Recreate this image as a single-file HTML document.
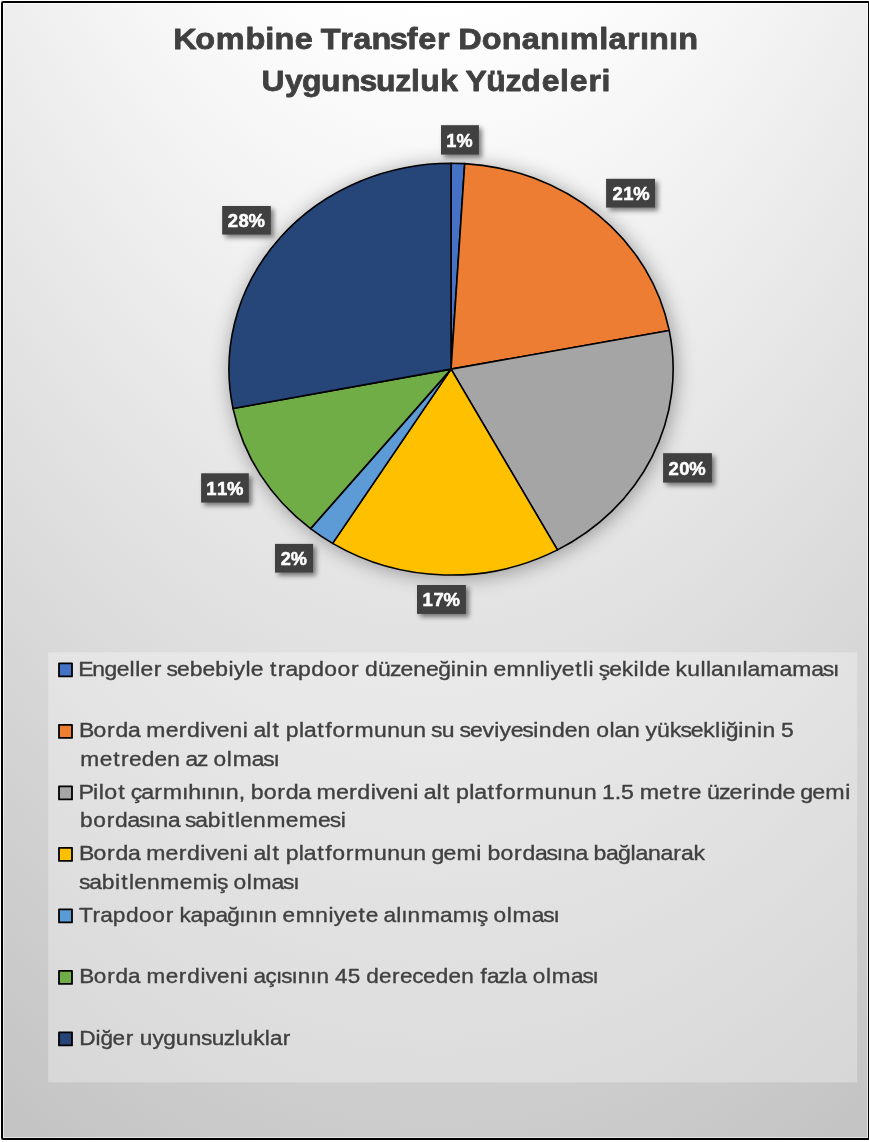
<!DOCTYPE html>
<html lang="tr"><head><meta charset="utf-8"><title>Kombine Transfer Donanımlarının Uygunsuzluk Yüzdeleri</title>
<style>
html,body{margin:0;padding:0;background:#fff;}
body{width:869px;height:1142px;overflow:hidden;position:relative;font-family:"Liberation Sans",sans-serif;}
#chart{position:absolute;left:1px;top:1px;width:865px;height:1135px;border:2px solid #000;border-radius:2px;
background:radial-gradient(ellipse 1092px 2319px at 50% -80%, #fff 0%, #fff 39%, #bfbfbf 100%);
box-shadow:inset 0 0 0 1px rgba(255,255,255,.55);}
svg{position:absolute;left:0;top:0;}
text{font-family:"Liberation Sans",sans-serif;}
.ti{font-weight:bold;font-size:30.4px;fill:#404040;stroke:#404040;stroke-width:.8px;stroke-linejoin:round;}
.lb{font-weight:bold;font-size:17.5px;fill:#fff;stroke:#fff;stroke-width:.5px;}
.lg{font-size:20.4px;fill:#404040;stroke:#404040;stroke-width:.35px;}
</style></head><body>
<div id="chart"></div>
<svg width="869" height="1142" viewBox="0 0 869 1142">
<defs>
<filter id="ps" x="-20%" y="-20%" width="140%" height="140%"><feGaussianBlur in="SourceAlpha" stdDeviation="10"/><feOffset dx="1.5" dy="2"/><feComponentTransfer><feFuncA type="linear" slope="0.36"/></feComponentTransfer><feMerge><feMergeNode/><feMergeNode in="SourceGraphic"/></feMerge></filter>
<filter id="ls" x="-30%" y="-30%" width="170%" height="180%"><feGaussianBlur in="SourceAlpha" stdDeviation="2.4"/><feOffset dx="3" dy="3"/><feComponentTransfer><feFuncA type="linear" slope="0.5"/></feComponentTransfer><feMerge><feMergeNode/><feMergeNode in="SourceGraphic"/></feMerge></filter>
</defs>
<text transform="scale(1.0681,1)" x="162.24 182.80 202.06 229.77 248.45 257.01 275.93 292.83 300.31 318.46 330.69 347.79 364.90 380.73 391.58 409.04 420.83 428.97 450.97 469.67 488.43 505.53 524.21 533.33 561.04 569.68 586.99 599.13 607.69 626.36 634.92" y="49.2" class="ti">Kombine Transfer Donanımlarının</text>
<text transform="scale(1.0512,1)" x="248.65 271.25 287.30 305.31 324.44 341.94 357.78 376.11 390.94 399.82 418.77 435.57 442.95 462.63 480.95 495.90 515.26 532.83 541.94 559.76 572.16" y="91.5" class="ti">Uygunsuzluk Yüzdeleri</text>
<g filter="url(#ps)" stroke="#000" stroke-width="1.6" stroke-linejoin="round">
<path d="M451.05 369.15L451.05 163.25A222.1 205.9 0 0 1 464.72 163.64Z" fill="#4472C4"/>
<path d="M451.05 369.15L464.72 163.64A222.1 205.9 0 0 1 669.19 330.44Z" fill="#ED7D31"/>
<path d="M451.05 369.15L669.19 330.44A222.1 205.9 0 0 1 557.44 549.89Z" fill="#A5A5A5"/>
<path d="M451.05 369.15L557.44 549.89A222.1 205.9 0 0 1 332.63 543.34Z" fill="#FFC000"/>
<path d="M451.05 369.15L332.63 543.34A222.1 205.9 0 0 1 310.56 528.62Z" fill="#5B9BD5"/>
<path d="M451.05 369.15L310.56 528.62A222.1 205.9 0 0 1 233.04 408.49Z" fill="#70AD47"/>
<path d="M451.05 369.15L233.04 408.49A222.1 205.9 0 0 1 451.05 163.25Z" fill="#264478"/>
</g>
<rect x="441.0" y="125.2" width="37.9" height="29.4" fill="#404040" filter="url(#ls)"/>
<text transform="scale(1.0360,1)" x="430.82 440.55" y="146.8" class="lb">1%</text>
<rect x="606.1" y="178.8" width="48.9" height="28.8" fill="#404040" filter="url(#ls)"/>
<text transform="scale(1.0550,1)" x="580.47 590.66 600.17" y="199.9" class="lb">21%</text>
<rect x="663.1" y="453.2" width="48.8" height="29.4" fill="#404040" filter="url(#ls)"/>
<text transform="scale(1.0550,1)" x="633.74 643.93 653.44" y="474.8" class="lb">20%</text>
<rect x="417.0" y="585.0" width="48.9" height="28.9" fill="#404040" filter="url(#ls)"/>
<text transform="scale(1.0550,1)" x="400.60 410.79 420.30" y="606.0" class="lb">17%</text>
<rect x="275.0" y="543.9" width="38.1" height="28.7" fill="#404040" filter="url(#ls)"/>
<text transform="scale(1.0360,1)" x="270.93 280.67" y="564.7" class="lb">2%</text>
<rect x="201.1" y="473.3" width="47.7" height="29.3" fill="#404040" filter="url(#ls)"/>
<text transform="scale(1.0550,1)" x="195.48 205.67 215.18" y="495.0" class="lb">11%</text>
<rect x="222.2" y="206.0" width="48.6" height="28.6" fill="#404040" filter="url(#ls)"/>
<text transform="scale(1.0550,1)" x="215.82 226.01 235.52" y="226.9" class="lb">28%</text>
<rect x="48.2" y="652.3" width="809" height="430.1" fill="#fff" fill-opacity="0.3"/>
<rect x="59.0" y="663.3" width="13.0" height="13.1" fill="#4472C4" stroke="#000" stroke-width="1.8" stroke-linejoin="round"/>
<text transform="scale(1.1215,1)" x="69.83 82.22 93.29 104.06 115.54 120.63 125.31 137.00 143.95 148.54 157.85 169.22 180.59 191.96 203.75 208.50 218.91 223.58 234.47 240.71 247.75 254.67 265.83 277.50 289.19 300.91 312.92 319.88 325.38 337.05 347.85 357.21 368.58 379.95 390.72 401.90 406.88 418.66 423.64 434.82 440.03 451.62 469.16 480.95 486.04 490.79 500.79 512.88 519.72 524.81 529.30 533.89 543.20 554.36 564.80 569.89 574.86 586.24 597.12 602.42 612.74 624.53 629.62 634.08 645.24 656.46 662.12 666.58 677.96 694.99 706.37 723.40 733.64 742.80" y="675.8" class="lg">Engeller sebebiyle trapdoor düzeneğinin emnliyetli şekilde kullanılamaması</text>
<rect x="59.0" y="724.8" width="13.0" height="13.1" fill="#ED7D31" stroke="#000" stroke-width="1.8" stroke-linejoin="round"/>
<text transform="scale(1.1263,1)" x="70.12 83.10 95.07 102.47 113.58 124.22 129.90 147.08 158.73 166.13 177.88 182.58 192.52 203.85 215.60 220.06 225.03 236.27 241.94 248.15 253.63 265.38 269.81 281.65 288.74 295.11 307.08 314.68 332.16 343.78 355.40 367.02 378.17 382.73 392.30 403.45 408.01 417.28 428.36 438.73 443.45 453.40 463.81 473.51 478.44 490.06 501.39 512.71 523.86 529.35 541.13 545.56 556.67 567.82 573.07 583.32 594.74 604.10 613.36 624.48 634.89 639.96 644.30 655.45 660.39 672.14 677.08 688.23 693.50" y="737.3" class="lg">Borda merdiveni alt platformunun su seviyesinden olan yüksekliğinin 5</text>
<text transform="scale(1.1142,1)" x="72.11 89.44 101.60 108.69 115.89 127.33 138.78 150.22 161.46 166.51 176.86 186.07 191.66 203.52 208.79 225.91 236.22 245.42" y="765.9" class="lg">metreden az olması</text>
<rect x="59.0" y="786.3" width="13.0" height="13.1" fill="#A5A5A5" stroke="#000" stroke-width="1.8" stroke-linejoin="round"/>
<text transform="scale(1.1387,1)" x="68.99 81.69 86.70 91.57 103.85 109.99 114.83 124.13 135.47 142.94 159.85 165.27 176.36 181.78 192.87 198.28 209.61 214.82 220.20 231.72 243.58 250.87 261.86 272.42 277.98 295.00 306.55 313.84 325.50 330.12 339.95 351.15 362.81 367.22 372.10 383.26 388.86 395.00 400.39 412.05 416.39 428.14 435.15 441.42 453.28 460.75 478.07 489.56 501.05 512.55 523.61 528.79 539.94 545.41 556.27 561.83 578.85 590.81 597.74 604.73 615.50 620.88 631.52 640.73 652.27 659.73 664.58 676.07 687.27 698.04 702.83 713.43 724.81 742.29" y="798.8" class="lg">Pilot çarmıhının, borda merdiveni alt platformunun 1.5 metre üzerinde gemi</text>
<text transform="scale(1.1181,1)" x="71.60 83.33 95.37 102.84 114.03 124.30 133.48 139.05 150.24 160.94 165.55 174.68 185.87 197.68 203.40 210.26 214.96 226.36 238.30 255.58 267.22 284.50 294.98 304.73" y="827.4" class="lg">bordasına sabitlenmemesi</text>
<rect x="59.0" y="847.8" width="13.0" height="13.1" fill="#FFC000" stroke="#000" stroke-width="1.8" stroke-linejoin="round"/>
<text transform="scale(1.1294,1)" x="69.90 82.86 94.80 102.17 113.25 123.87 129.52 146.66 158.28 165.65 177.38 182.06 191.97 203.26 214.99 219.45 224.39 235.61 241.26 247.46 252.91 264.63 269.04 280.86 287.93 294.27 306.21 313.78 331.22 342.81 354.40 365.98 377.11 381.97 392.66 404.15 421.73 426.18 431.63 443.24 455.18 462.55 473.63 483.81 492.92 498.40 509.48 520.10 525.55 536.63 547.11 558.25 562.65 573.73 584.82 596.23 603.09 613.97" y="860.3" class="lg">Borda merdiveni alt platformunun gemi bordasına bağlanarak</text>
<text transform="scale(1.1194,1)" x="70.59 79.70 90.88 102.69 108.40 115.25 119.93 131.33 143.24 160.51 172.13 189.81 193.88 203.01 208.56 220.38 225.60 242.65 252.91 262.08" y="888.9" class="lg">sabitlenmemiş olması</text>
<rect x="59.0" y="909.3" width="13.0" height="13.1" fill="#5B9BD5" stroke="#000" stroke-width="1.8" stroke-linejoin="round"/>
<text transform="scale(1.1101,1)" x="71.17 83.39 90.41 101.69 113.48 125.29 137.13 149.24 156.26 161.64 171.55 182.83 194.10 204.77 215.46 221.09 232.40 238.02 249.30 254.59 266.33 284.02 295.89 300.71 310.82 323.01 329.53 340.49 345.57 356.93 361.50 367.13 379.17 396.35 407.87 425.08 429.77 438.97 444.58 456.48 461.79 478.97 489.31 498.54" y="921.8" class="lg">Trapdoor kapağının emniyete alınmamış olması</text>
<rect x="59.0" y="970.8" width="13.0" height="13.1" fill="#70AD47" stroke="#000" stroke-width="1.8" stroke-linejoin="round"/>
<text transform="scale(1.1023,1)" x="71.79 85.03 97.22 104.82 116.18 126.99 132.92 150.41 162.26 169.87 181.80 186.67 196.84 208.40 220.34 224.91 230.05 240.82 250.46 255.20 264.48 270.17 281.53 287.22 298.55 304.00 315.47 326.60 332.25 343.82 355.67 362.97 373.96 383.80 395.37 406.94 418.51 429.84 435.84 441.87 452.33 462.22 466.82 477.63 483.30 495.26 500.65 517.93 528.34 537.62" y="983.3" class="lg">Borda merdiveni açısının 45 dereceden fazla olması</text>
<rect x="59.0" y="1032.3" width="13.0" height="13.1" fill="#264478" stroke="#000" stroke-width="1.8" stroke-linejoin="round"/>
<text transform="scale(1.1077,1)" x="71.65 86.24 90.72 101.62 113.43 120.46 126.07 137.65 147.48 158.68 170.50 181.38 191.12 202.04 211.90 216.98 228.58 239.11 243.67 255.26" y="1044.8" class="lg">Diğer uygunsuzluklar</text>
</svg>
</body></html>
